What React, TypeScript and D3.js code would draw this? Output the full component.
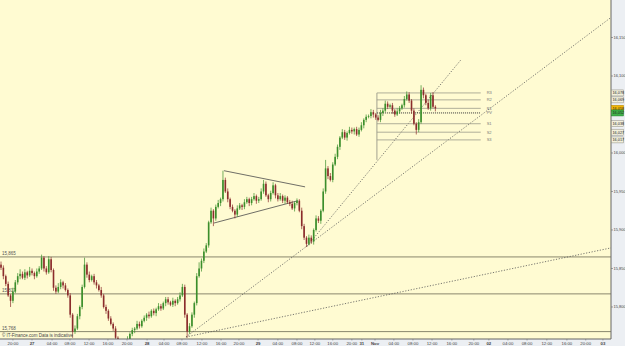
import React from 'react';
import * as d3 from 'd3';

const W = 625;
const H = 346;
const PLOT_R = 611;
const PLOT_B = 339;

const firstOpen = 15855;
const closes = [
  15851, 15840, 15830, 15815, 15808, 15820, 15832, 15840, 15843, 15838,
  15845, 15841, 15847, 15844, 15840, 15846, 15850, 15864, 15850, 15845,
  15862, 15848, 15825, 15820, 15826, 15832, 15828, 15822, 15815, 15790,
  15768, 15772, 15788, 15800, 15826, 15855, 15842, 15835, 15840, 15832,
  15828, 15822, 15815, 15800, 15795, 15785, 15778, 15772, 15760, 15752,
  15748, 15752, 15750, 15758, 15765, 15770, 15772, 15778, 15775, 15782,
  15786, 15790, 15788, 15795, 15792, 15797, 15801, 15798, 15805, 15810,
  15806, 15803, 15808, 15805, 15810, 15815, 15826, 15790, 15768, 15775,
  15790, 15805, 15840, 15850, 15860, 15872, 15880, 15910, 15925, 15915,
  15930, 15935, 15940, 15965, 15950, 15940, 15930, 15925, 15920, 15928,
  15932, 15930, 15936, 15940, 15935, 15940, 15944, 15938, 15940, 15950,
  15960, 15945, 15940, 15948, 15958, 15945, 15940, 15944, 15938, 15942,
  15936, 15934, 15928, 15935, 15938, 15925, 15905, 15890, 15882, 15890,
  15885, 15900, 15915, 15912, 15925, 15950, 15980, 15970, 15965, 15985,
  15995, 16008, 16020, 16027, 16020, 16026, 16030, 16028, 16031, 16024,
  16030, 16036, 16043, 16047, 16048, 16053, 16050, 16046, 16043, 16052,
  16055, 16064, 16060, 16062, 16055, 16050, 16054, 16058, 16062, 16070,
  16076, 16068, 16055, 16038, 16030, 16040, 16082, 16075, 16065, 16058,
  16075, 16060, 16058,
];
const upWick = [
  4, 3, 2, 3, 2, 5, 3, 4, 6, 3,
  4, 2, 5, 3, 2, 4, 3, 4, 2, 3,
  4, 3, 2, 3, 5, 4, 2, 3, 2, 3,
  2, 4, 3, 2, 3, 9, 3, 4, 2, 3,
  3, 2, 4, 2, 3, 2, 3, 2, 3, 2,
  2, 3, 2, 4, 2, 3, 2, 4, 3, 2,
  3, 2, 4, 2, 3, 2, 4, 3, 2, 3,
  3, 2, 4, 2, 3, 4, 4, 3, 2, 4,
  3, 2, 4, 8, 3, 4, 3, 2, 4, 2,
  3, 4, 2, 12, 3, 4, 2, 3, 2, 4,
  3, 2, 4, 3, 2, 3, 4, 2, 3, 4,
  5, 3, 2, 3, 4, 2, 3, 4, 2, 3,
  2, 3, 4, 2, 3, 2, 4, 3, 2, 4,
  3, 2, 4, 3, 2, 4, 11, 3, 4, 3,
  4, 3, 2, 4, 3, 2, 4, 3, 2, 3,
  3, 4, 2, 3, 2, 4, 3, 2, 3, 4,
  3, 4, 3, 2, 3, 2, 4, 3, 2, 4,
  4, 3, 2, 3, 2, 4, 6, 3, 2, 4,
  3, 4, 2,
];
const downWick = [
  3, 4, 3, 2, 8, 3, 2, 3, 4, 2,
  3, 4, 2, 3, 4, 2, 3, 2, 4, 3,
  2, 3, 4, 3, 2, 3, 4, 2, 3, 4,
  8, 3, 2, 4, 3, 2, 4, 3, 2, 3,
  4, 2, 3, 2, 4, 3, 2, 3, 4, 3,
  3, 2, 4, 3, 2, 3, 4, 2, 3, 2,
  2, 4, 3, 2, 3, 4, 2, 3, 2, 4,
  3, 2, 3, 4, 2, 3, 2, 4, 8, 3,
  2, 4, 3, 2, 4, 3, 2, 3, 2, 10,
  3, 2, 4, 3, 2, 4, 3, 2, 5, 3,
  2, 4, 3, 2, 4, 3, 2, 4, 3, 2,
  3, 2, 4, 3, 2, 4, 3, 2, 3, 4,
  2, 3, 2, 4, 3, 2, 4, 3, 4, 2,
  3, 4, 2, 3, 4, 2, 3, 4, 2, 3,
  2, 3, 4, 2, 3, 4, 2, 3, 4, 2,
  3, 2, 4, 3, 2, 3, 4, 3, 2, 3,
  4, 2, 3, 2, 4, 3, 2, 3, 2, 3,
  2, 3, 4, 2, 6, 3, 2, 4, 3, 2,
  3, 2, 4,
];

const yTicks = [15800, 15850, 15900, 15950, 16000, 16100, 16150];

const xTickIdx = [5.0, 13.0, 21.4, 28.9, 36.9, 44.8, 52.8, 61.2, 68.3, 75.8, 84.2, 92.2, 99.7, 107.7,
  116, 124, 131.5, 139, 147, 151.2, 156.7, 164.6, 172.6, 180.6, 188.9, 198.1, 204.4, 212.4,
  220.4, 228.7, 237.1, 245, 252.2];
const xTickLabels = ['20:00', '27', '04:00', '08:00', '12:00', '16:00', '20:00', '28', '04:00', '08:00',
  '12:00', '16:00', '20:00', '29', '04:00', '08:00', '12:00', '16:00', '20:00', '31', 'Nov', '04:00',
  '08:00', '12:00', '16:00', '20:00', '02', '04:00', '08:00', '12:00', '16:00', '20:00', '03'];

const hLevels = [15865, 15817, 15768];

const pivotNames = ['R3', 'R2', 'R1', 'PV', 'S1', 'S2', 'S3'];
const pivotValues = [16078, 16069, 16058, 16052, 16038, 16027, 16017];
const pivotStart = 157.5;
const pivotEnd = 201;
const pivotLabelAt = 203.5;
const pivotVLow = 15991;
const lastPrice = 16058;

const trendLines: [number, number][][] = [
  [[77.5, 15761], [256, 16177]],
  [[77.5, 15761], [256, 15877]],
  [[128, 15878], [192.7, 16121]],
];
const triangleLines: [number, number][][] = [
  [[93.4, 15977], [127.4, 15956]],
  [[89.2, 15909], [124.4, 15938]],
];

const fmt = d3.format(',');
const FONT = 'Liberation Sans, Arial, sans-serif';

export default function App() {
  const x = d3.scaleLinear().domain([0, 256]).range([1, 612]);
  const y = d3.scaleLinear().domain([15758.4, 16198.7]).range([PLOT_B, 0]);
  const line = d3.line<[number, number]>().x((d) => x(d[0])).y((d) => y(d[1]));

  const bars = closes.map((c, i) => {
    const o = i === 0 ? firstOpen : closes[i - 1];
    const h = Math.max(o, c) + upWick[i];
    const l = Math.min(o, c) - downWick[i];
    return { i, o, h, l, c };
  });

  const boxVals = [
    { v: pivotValues[0], fill: '#f3f0dc', stroke: '#8a8a80' },
    { v: pivotValues[1], fill: '#f3f0dc', stroke: '#8a8a80' },
    { v: lastPrice, fill: '#f2b705', stroke: '#b08000' },
    { v: pivotValues[3], fill: '#3fb24a', stroke: '#1f7a2a' },
    { v: pivotValues[4], fill: '#f3f0dc', stroke: '#8a8a80' },
    { v: pivotValues[5], fill: '#f3f0dc', stroke: '#8a8a80' },
    { v: pivotValues[6], fill: '#f3f0dc', stroke: '#8a8a80' },
  ];

  return (
    <svg width={W} height={H} style={{ position: 'absolute', left: 0, top: 0 }} fontFamily={FONT}>
      <defs>
        <clipPath id="plotClip">
          <rect x={0} y={0} width={PLOT_R} height={PLOT_B} />
        </clipPath>
      </defs>
      <rect x={0} y={0} width={W} height={H} fill="#eceff3" />
      <rect x={0} y={0} width={PLOT_R} height={PLOT_B} fill="#fffbd2" />

      <g clipPath="url(#plotClip)">
        {hLevels.map((v, k) => (
          <g key={'h' + k}>
            <line x1={0} x2={PLOT_R} y1={y(v)} y2={y(v)} stroke="#7d7b62" strokeWidth={0.9} />
            <text x={2} y={y(v) - 1.5} fontSize={4.5} fill="#555">{fmt(v)}</text>
          </g>
        ))}

        {trendLines.map((d, k) => (
          <path key={'t' + k} d={line(d) || ''} stroke="#555" strokeWidth={0.8} strokeDasharray="1.2 1.6" fill="none" />
        ))}
        {triangleLines.map((d, k) => (
          <path key={'tr' + k} d={line(d) || ''} stroke="#4a4a4a" strokeWidth={0.8} fill="none" />
        ))}

        <line x1={x(pivotStart)} x2={x(pivotStart)} y1={y(pivotValues[0])} y2={y(pivotVLow)} stroke="#8a8a80" strokeWidth={0.8} />
        {pivotValues.map((v, k) => (
          <g key={'p' + k}>
            <line x1={x(pivotStart)} x2={x(pivotEnd)} y1={y(v)} y2={y(v)}
              stroke={pivotNames[k] === 'PV' ? '#333' : '#9a9a8a'}
              strokeWidth={pivotNames[k] === 'PV' ? 1 : 0.8}
              strokeDasharray={pivotNames[k] === 'PV' ? '1 1' : undefined} />
            <text x={x(pivotLabelAt)} y={y(v) + 1.5} fontSize={4} fill="#777">{pivotNames[k]}</text>
          </g>
        ))}

        {bars.map((b) => {
          const up = b.c >= b.o;
          const col = up ? '#3b8e2b' : '#8b2c2c';
          const top = y(Math.max(b.o, b.c));
          const bot = y(Math.min(b.o, b.c));
          return (
            <g key={'b' + b.i}>
              <line x1={x(b.i)} x2={x(b.i)} y1={y(b.h)} y2={y(b.l)} stroke={col} strokeWidth={0.7} />
              <rect x={x(b.i) - 0.8} y={top} width={1.6} height={Math.max(0.6, bot - top)} fill={col} />
            </g>
          );
        })}

        <text x={2} y={337} fontSize={4.5} fill="#444">© IT-Finance.com   Data is indicative</text>
      </g>

      <line x1={PLOT_R} x2={PLOT_R} y1={0} y2={PLOT_B} stroke="#666" strokeWidth={1} />
      <line x1={0} x2={PLOT_R} y1={PLOT_B} y2={PLOT_B} stroke="#666" strokeWidth={1} />

      {yTicks.map((v) => (
        <g key={'y' + v}>
          <line x1={PLOT_R} x2={PLOT_R + 2} y1={y(v)} y2={y(v)} stroke="#666" strokeWidth={0.6} />
          <text x={PLOT_R + 2.5} y={y(v) + 1.5} fontSize={4} fill="#444">{fmt(v)}</text>
        </g>
      ))}

      {boxVals.map((b, k) => (
        <g key={'bx' + k}>
          <rect x={PLOT_R + 0.5} y={y(b.v) - 3} width={12} height={6} fill={b.fill} stroke={b.stroke} strokeWidth={0.5} />
          <text x={PLOT_R + 1.5} y={y(b.v) + 1.4} fontSize={3.8} fill="#222">{fmt(b.v)}</text>
        </g>
      ))}

      {xTickIdx.map((t, k) => {
        const bold = !xTickLabels[k].includes(':');
        return (
          <g key={'x' + k}>
            <line x1={x(t)} x2={x(t)} y1={PLOT_B} y2={PLOT_B + 1.5} stroke="#666" strokeWidth={0.5} />
            <text x={x(t)} y={344.5} fontSize={4.3} textAnchor="middle" fill="#444" fontWeight={bold ? 'bold' : 'normal'}>
              {xTickLabels[k]}
            </text>
          </g>
        );
      })}
    </svg>
  );
}
